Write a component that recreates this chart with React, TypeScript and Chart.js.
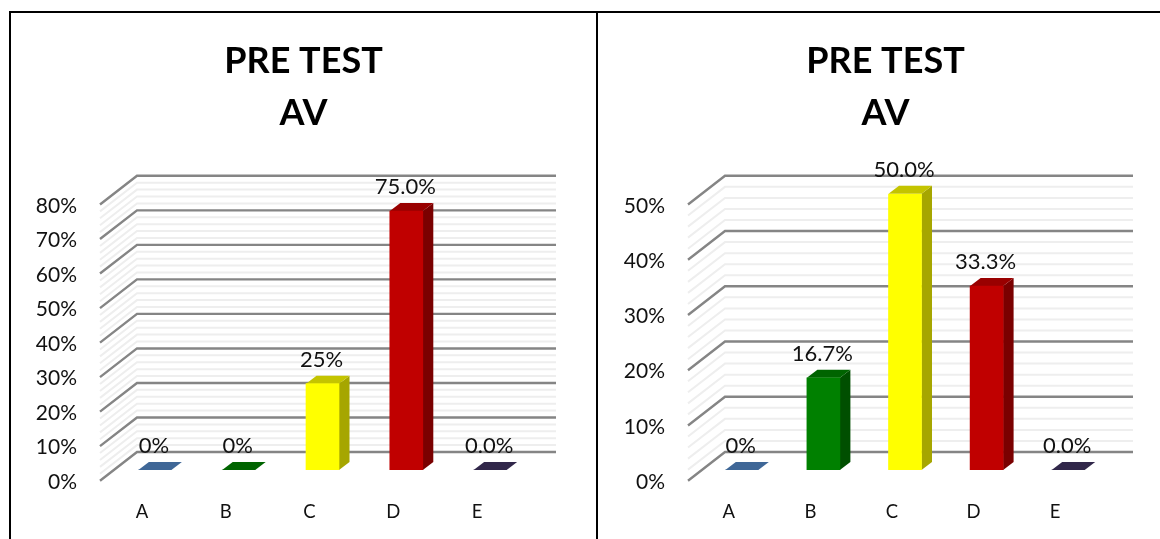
import React, { useEffect, useRef } from "react";
import { Chart, registerables } from "chart.js";

Chart.register(...registerables);

const categories = ["A", "B", "C", "D", "E"];
const leftValues = [0, 0, 25, 75, 0];
const rightValues = [0, 16.7, 50, 33.3, 0];
const leftLabels = ["0%", "0%", "25%", "75.0%", "0.0%"];
const rightLabels = ["0%", "16.7%", "50.0%", "33.3%", "0.0%"];
const titleLines = ["PRE TEST", "AV"];

const leftFront = ["#3f6797", "#006400", "#ffff00", "#c00000", "#31274a"];
const rightFront = ["#3f6797", "#008000", "#ffff00", "#c00000", "#31274a"];
const topFace = ["#3f6797", "#006400", "#c4c400", "#990000", "#31274a"];
const sideFace = ["#2f4d71", "#004f00", "#a6a600", "#7a0000", "#251d38"];

const FONT = "Lato, 'Open Sans', sans-serif";
const WALL_DX = 37;
const WALL_DY = -28.7;
const BAR_DX = 13;
const BAR_DY = -10.7;
const BAR_DEPTH_X = 10.5;
const BAR_DEPTH_Y = -8;

function makePlugin(labels: string[]) {
  return {
    id: "fake3d",
    beforeDatasetsDraw(chart: any) {
      const { ctx, chartArea, scales } = chart;
      const y = scales.y;
      const ticks = y.ticks.map((t: any) => t.value);
      const drawSet = (vals: number[], color: string, width: number) => {
        ctx.strokeStyle = color;
        ctx.lineWidth = width;
        ctx.beginPath();
        for (const v of vals) {
          const py = y.getPixelForValue(v);
          ctx.moveTo(chartArea.left, py);
          ctx.lineTo(chartArea.left + WALL_DX, py + WALL_DY);
          ctx.lineTo(chartArea.right + WALL_DX, py + WALL_DY);
        }
        ctx.stroke();
      };
      drawSet(ticks.filter((v: number) => v % 10 !== 0), "#eeeeee", 2);
      drawSet(ticks.filter((v: number) => v % 10 === 0), "#858585", 2.4);

      const meta = chart.getDatasetMeta(0);
      ctx.save();
      ctx.translate(BAR_DX, BAR_DY);
      meta.data.forEach((bar: any, i: number) => {
        const half = bar.width / 2;
        const l = bar.x - half;
        const r = bar.x + half;
        ctx.fillStyle = sideFace[i];
        ctx.beginPath();
        ctx.moveTo(r, bar.y);
        ctx.lineTo(r + BAR_DEPTH_X, bar.y + BAR_DEPTH_Y);
        ctx.lineTo(r + BAR_DEPTH_X, bar.base + BAR_DEPTH_Y);
        ctx.lineTo(r, bar.base);
        ctx.closePath();
        ctx.fill();
        ctx.fillStyle = topFace[i];
        ctx.beginPath();
        ctx.moveTo(l, bar.y);
        ctx.lineTo(l + BAR_DEPTH_X, bar.y + BAR_DEPTH_Y);
        ctx.lineTo(r + BAR_DEPTH_X, bar.y + BAR_DEPTH_Y);
        ctx.lineTo(r, bar.y);
        ctx.closePath();
        ctx.fill();
      });
      ctx.restore();
      ctx.save();
      ctx.translate(BAR_DX, BAR_DY);
    },
    afterDatasetsDraw(chart: any) {
      const { ctx } = chart;
      ctx.restore();
      const meta = chart.getDatasetMeta(0);
      ctx.save();
      ctx.fillStyle = "#111111";
      ctx.font = `22px ${FONT}`;
      ctx.textAlign = "center";
      ctx.textBaseline = "middle";
      meta.data.forEach((bar: any, i: number) => {
        ctx.fillText(labels[i], bar.x + BAR_DX - 1, bar.y + BAR_DY - 24);
      });
      ctx.fillStyle = "#000000";
      ctx.font = `bold 36px ${FONT}`;
      titleLines.forEach((t, i) => {
        ctx.fillText(t, chart.width / 2, 47.5 + i * 52);
      });
      ctx.restore();
    },
  };
}

function Panel(props: {
  left: number;
  width: number;
  axisWidth: number;
  rightPad: number;
  values: number[];
  labels: string[];
  colors: string[];
  max: number;
}) {
  const ref = useRef<HTMLCanvasElement>(null);
  useEffect(() => {
    const chart = new Chart(ref.current!, {
      type: "bar",
      data: {
        labels: categories,
        datasets: [
          {
            data: props.values,
            backgroundColor: props.colors,
            borderWidth: 0,
            barThickness: 33,
          },
        ],
      },
      options: {
        animation: false,
        responsive: false,
        layout: { padding: { left: 0, right: props.rightPad, top: 190.5, bottom: 0 } },
        plugins: {
          legend: { display: false },
          tooltip: { enabled: false },
          title: { display: false },
        },
        scales: {
          x: {
            grid: { display: false, drawTicks: false },
            border: { display: false },
            ticks: {
              color: "#111111",
              font: { family: FONT, size: 18.5 },
              padding: 20.5,
              maxRotation: 0,
            },
            afterFit: (s: any) => {
              s.height = 58.3;
            },
          },
          y: {
            min: 0,
            max: props.max,
            grid: { display: false, drawTicks: false },
            border: { display: false },
            ticks: {
              stepSize: 2,
              autoSkip: false,
              color: "#111111",
              font: { family: FONT, size: 21 },
              padding: 23,
              callback: (v: any) => (Number(v) % 10 === 0 ? `${v}%` : ""),
            },
            afterFit: (s: any) => {
              s.width = props.axisWidth;
              if (!s.__shifted) {
                s.__shifted = true;
                const orig = s.drawLabels.bind(s);
                s.drawLabels = (area: any) => {
                  s.ctx.save();
                  s.ctx.translate(0, 1.5);
                  orig(area);
                  s.ctx.restore();
                };
              }
            },
          },
        },
      },
      plugins: [makePlugin(props.labels)],
    } as any);
    return () => chart.destroy();
  }, []);
  return (
    <canvas
      ref={ref}
      width={props.width}
      height={525}
      style={{ position: "absolute", left: props.left, top: 14, width: props.width, height: 525 }}
    />
  );
}

const line = (left: number, top: number, width: number, height: number): React.CSSProperties => ({
  position: "absolute",
  left,
  top,
  width,
  height,
  background: "#000000",
});

export default function App() {
  return (
    <div style={{ position: "fixed", left: 0, top: 0, width: 1160, height: 539, overflow: "hidden", background: "#ffffff" }}>
      <Panel left={10} width={587} axisWidth={90} rightPad={78} values={leftValues} labels={leftLabels} colors={leftFront} max={80} />
      <Panel left={599} width={573} axisWidth={89} rightPad={76} values={rightValues} labels={rightLabels} colors={rightFront} max={50} />
      <div style={line(9, 11, 1151, 2)} />
      <div style={line(9, 11, 2, 528)} />
      <div style={line(596, 11, 2, 528)} />
    </div>
  );
}
